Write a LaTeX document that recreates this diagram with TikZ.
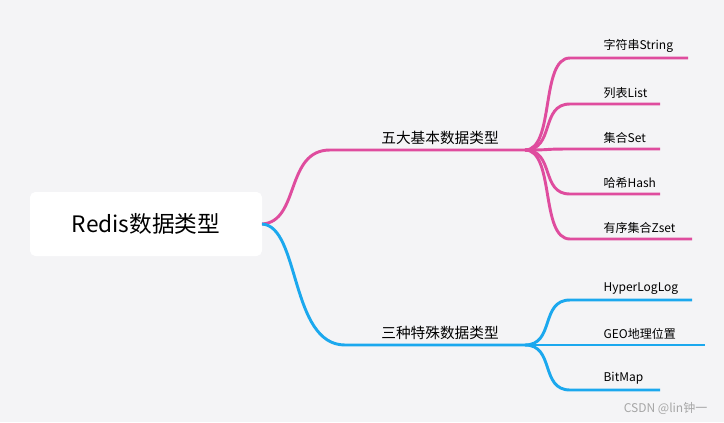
\documentclass[tikz,border=0pt]{standalone}
\usepackage{fontspec}
\setmainfont{Noto Sans CJK SC}
\definecolor{bgc}{HTML}{F4F4F6}
\definecolor{pinkc}{HTML}{DF4C9E}
\definecolor{bluec}{HTML}{1BA8EE}
\begin{document}
\begin{tikzpicture}[x=0.75pt, y=-0.75pt,
    branch/.style={line width=2.2pt},
    leaf/.style={anchor=south west, inner sep=1pt, font=\fontsize{9}{10}\selectfont, yshift=3pt},
    mid/.style={anchor=south, inner sep=1pt, font=\fontsize{11}{12}\selectfont, yshift=3pt}]
    \fill[bgc] (0,0) rectangle (724,422);
    \useasboundingbox (0,0) rectangle (724,422);
    \node[fill=white, rounded corners=4pt, minimum width=174pt, minimum height=48pt,
          font=\fontsize{17}{20}\selectfont] (root) at (146,224) {Redis数据类型};
    \coordinate (rootE) at (262,224);
    % five basic types
    \coordinate (pA) at (330,150);
    \coordinate (pB) at (525,150);
    \draw[branch, pinkc] (rootE) .. controls (300,222) and (285,150) .. (pA) -- (pB);
    \node[mid] (basic) at (440,150) {五大基本数据类型};
    \foreach \name/\yy/\xe/\txt in {s/58/688/字符串String, l/104/660/列表List, st/149/660/集合Set, h/194/660/哈希Hash, z/239/692/有序集合Zset} {
        \coordinate (\name a) at (570,\yy);
        \coordinate (\name b) at (\xe,\yy);
        \draw[branch, pinkc] (pB) .. controls (555,150) and (540,\yy) .. (\name a) -- (\name b);
        \node[leaf] (\name) at (602,\yy) {\txt};
    }
    % three special types
    \coordinate (bA) at (345,345);
    \coordinate (bB) at (525,345);
    \draw[branch, bluec] (rootE) .. controls (300,226) and (290,345) .. (bA) -- (bB);
    \node[mid] (special) at (440,345) {三种特殊数据类型};
    \foreach \name/\yy/\xe/\txt in {hll/300/692/HyperLogLog, geo/345/705/GEO地理位置, bm/390/660/BitMap} {
        \coordinate (\name a) at (570,\yy);
        \coordinate (\name b) at (\xe,\yy);
        \draw[branch, bluec] (bB) .. controls (555,345) and (540,\yy) .. (\name a) -- (\name b);
        \node[leaf] (\name) at (602,\yy) {\txt};
    }
    \node[anchor=east, text=gray!70, font=\fontsize{9}{10}\selectfont] (mark) at (712,409) {CSDN @lin钟一};
\end{tikzpicture}
\end{document}
